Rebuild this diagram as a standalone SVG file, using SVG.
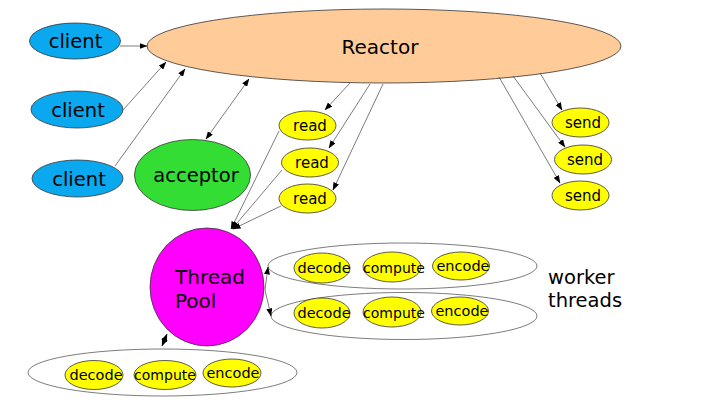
<svg xmlns="http://www.w3.org/2000/svg" width="708" height="406" viewBox="0 0 708 406">
<defs>
<marker id="ah" markerWidth="8" markerHeight="6" refX="7.5" refY="3" orient="auto-start-reverse" markerUnits="userSpaceOnUse">
<path d="M0,0 L8,3 L0,6 Z" fill="#000"/>
</marker>
<style>
.t{font-family:"DejaVu Sans",Verdana,sans-serif;fill:#000;text-anchor:middle}
.n{stroke:#333;stroke-width:0.8}
.cl{fill:#0aa8ee}
.ye{fill:#ffff00}
.c{fill:none;stroke:#444;stroke-width:0.7}
.ar{fill:none;stroke:#444;stroke-width:0.7;marker-end:url(#ah)}
.ar2{fill:none;stroke:#444;stroke-width:0.7;marker-end:url(#ah);marker-start:url(#ah)}
</style>
</defs>
<rect width="708" height="406" fill="#fff"/>

<g id="reactor"><ellipse class="n" cx="384" cy="46" rx="237" ry="37" fill="#ffcc99"/><text class="t" x="380" y="54" font-size="20">Reactor</text></g>
<g id="client1"><ellipse class="n cl" cx="75" cy="41" rx="45.5" ry="18"/><text class="t" x="75.5" y="48" font-size="19.5">client</text></g>
<g id="client2"><ellipse class="n cl" cx="77" cy="109.5" rx="46" ry="18.5"/><text class="t" x="78" y="117" font-size="19.5">client</text></g>
<g id="client3"><ellipse class="n cl" cx="77.5" cy="178.5" rx="45.5" ry="18.5"/><text class="t" x="79" y="186" font-size="19.5">client</text></g>
<g id="acceptor"><ellipse class="n" cx="192.5" cy="175" rx="58" ry="35.5" fill="#33dd33"/><text class="t" x="196" y="182" font-size="19.5">acceptor</text></g>

<g id="read1"><ellipse class="n ye" cx="307.5" cy="125.5" rx="28.5" ry="14.5"/><text class="t" x="310" y="131" font-size="15">read</text></g>
<g id="read2"><ellipse class="n ye" cx="310" cy="162.5" rx="28.5" ry="14.5"/><text class="t" x="312" y="168" font-size="15">read</text></g>
<g id="read3"><ellipse class="n ye" cx="307.5" cy="198.5" rx="28.5" ry="14.5"/><text class="t" x="310" y="204" font-size="15">read</text></g>

<g id="send1"><ellipse class="n ye" cx="580.5" cy="122.5" rx="28.5" ry="14.5"/><text class="t" x="583" y="128" font-size="15">send</text></g>
<g id="send2"><ellipse class="n ye" cx="583" cy="159.5" rx="28.5" ry="14.5"/><text class="t" x="585" y="165" font-size="15">send</text></g>
<g id="send3"><ellipse class="n ye" cx="580.5" cy="195.5" rx="28.5" ry="14.5"/><text class="t" x="583" y="201" font-size="15">send</text></g>

<g id="threadpool"><ellipse class="n" cx="207" cy="287" rx="57" ry="59" fill="#ff00ff"/>
<text class="t" x="175" y="284" font-size="20" style="text-anchor:start">Thread</text>
<text class="t" x="175" y="308" font-size="20" style="text-anchor:start">Pool</text></g>

<g id="worker1">
<ellipse class="c" cx="402.5" cy="266" rx="134.5" ry="23"/>
<ellipse class="n ye" cx="322" cy="268" rx="28" ry="15"/><text class="t" x="324" y="273" font-size="14.5">decode</text>
<ellipse class="n ye" cx="392" cy="267" rx="29" ry="15"/><text class="t" x="394" y="273" font-size="14">compute</text>
<ellipse class="n ye" cx="461" cy="266" rx="28.5" ry="14"/><text class="t" x="463" y="271" font-size="14.5">encode</text>
</g>
<g id="worker2">
<ellipse class="c" cx="404" cy="316" rx="133" ry="23.5"/>
<ellipse class="n ye" cx="322" cy="313" rx="28" ry="15"/><text class="t" x="324" y="318" font-size="14.5">decode</text>
<ellipse class="n ye" cx="392" cy="312" rx="29" ry="15"/><text class="t" x="394" y="318" font-size="14">compute</text>
<ellipse class="n ye" cx="460" cy="311" rx="28.5" ry="14"/><text class="t" x="462" y="316" font-size="14.5">encode</text>
</g>
<g id="worker3">
<ellipse class="c" cx="162.5" cy="372.5" rx="134.5" ry="23.5"/>
<ellipse class="n ye" cx="94" cy="375" rx="29" ry="14.5"/><text class="t" x="96" y="380" font-size="14.5">decode</text>
<ellipse class="n ye" cx="165" cy="375" rx="31" ry="14.5"/><text class="t" x="165" y="380" font-size="14">compute</text>
<ellipse class="n ye" cx="232" cy="373" rx="29" ry="14"/><text class="t" x="233" y="378" font-size="14.5">encode</text>
</g>

<g id="label"><text class="t" x="548" y="284" font-size="19.5" style="text-anchor:start">worker</text><text class="t" x="548" y="307" font-size="19.5" style="text-anchor:start">threads</text></g>

<g id="connectors">
<line class="ar" x1="120" y1="46" x2="147" y2="46"/>
<line class="ar" x1="123" y1="110" x2="166" y2="62"/>
<line class="ar" x1="115" y1="166" x2="185" y2="69"/>
<line class="ar2" x1="249" y1="79" x2="206" y2="139"/>
<line class="ar" x1="350" y1="83" x2="325" y2="110"/>
<line class="ar" x1="370" y1="84" x2="329" y2="148"/>
<line class="ar" x1="383" y1="84" x2="333" y2="190"/>
<line class="ar" x1="540" y1="73" x2="562" y2="110"/>
<line class="ar" x1="513" y1="76" x2="565" y2="147"/>
<line class="ar" x1="499" y1="77" x2="560" y2="183"/>
<line class="ar" x1="279" y1="131" x2="231" y2="229"/>
<line class="ar" x1="282" y1="170" x2="232" y2="229"/>
<line class="ar" x1="281" y1="206" x2="233" y2="229"/>
<line class="ar" x1="265" y1="290" x2="268" y2="267"/>
<line class="ar" x1="265" y1="290" x2="271" y2="316"/>
<line class="ar2" x1="167" y1="334" x2="162" y2="346"/>
</g>
</svg>
